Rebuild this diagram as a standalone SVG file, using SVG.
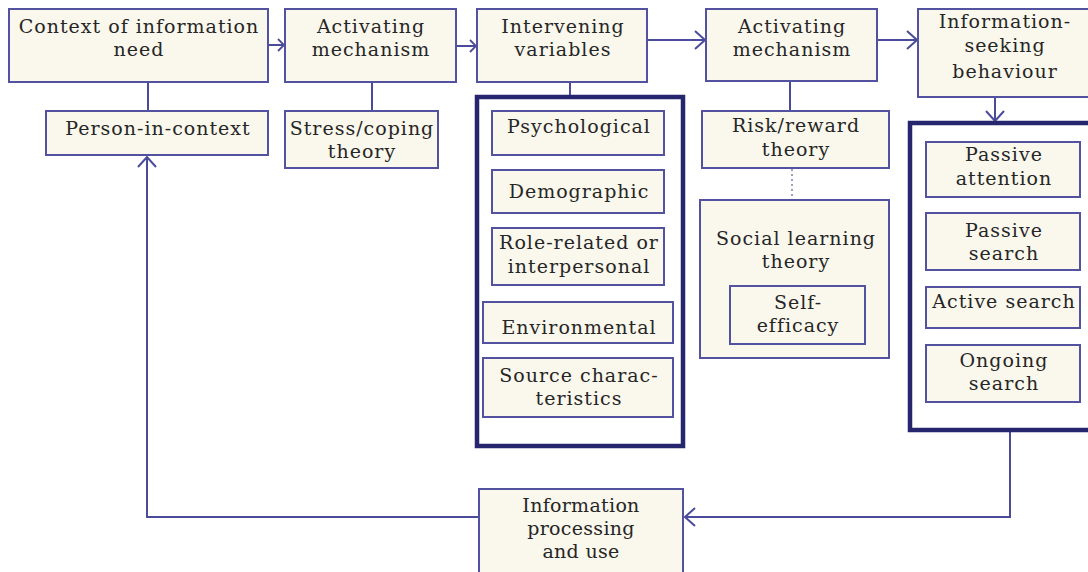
<svg xmlns="http://www.w3.org/2000/svg" width="1088" height="572" viewBox="0 0 1088 572">
<defs>
<style>
.b{fill:#faf7ec;stroke:#5252a0;stroke-width:2}
.k{fill:#ffffff;stroke:#26266e;stroke-width:4.5}
.c{fill:none;stroke:#4b4b9c;stroke-width:2}
.d{fill:none;stroke:#8080a8;stroke-width:1.5;stroke-dasharray:2 3}
text{font-family:"DejaVu Serif","Liberation Serif",serif;font-size:19px;letter-spacing:1px;fill:#262626;text-anchor:middle}
.n{font-size:19px;letter-spacing:0.3px}
</style>
<marker id="ah" viewBox="0 0 12 20" refX="11" refY="10" markerWidth="12" markerHeight="20" markerUnits="userSpaceOnUse" orient="auto">
<path d="M1,1 L11,10 L1,19" fill="none" stroke="#4b4b9c" stroke-width="2"/>
</marker>
<marker id="ahs" viewBox="0 0 8 14" refX="7" refY="7" markerWidth="8" markerHeight="14" markerUnits="userSpaceOnUse" orient="auto">
<path d="M1,1 L7,7 L1,13" fill="none" stroke="#4b4b9c" stroke-width="1.8"/>
</marker>
</defs>
<rect width="1088" height="572" fill="#ffffff"/>

<g id="connectors">
<line class="c" x1="268" y1="45" x2="284" y2="45" marker-end="url(#ahs)"/>
<line class="c" x1="456" y1="46" x2="476" y2="46" marker-end="url(#ahs)"/>
<line class="c" x1="647" y1="40" x2="705" y2="40" marker-end="url(#ah)"/>
<line class="c" x1="877" y1="40" x2="917" y2="40" marker-end="url(#ah)"/>
<line class="c" x1="995" y1="97" x2="995" y2="121" marker-end="url(#ah)"/>
<line class="c" x1="148" y1="82" x2="148" y2="111"/>
<line class="c" x1="372" y1="82" x2="372" y2="111"/>
<line class="c" x1="570" y1="82" x2="570" y2="96"/>
<line class="c" x1="790" y1="81" x2="790" y2="111"/>
<line class="d" x1="792" y1="169" x2="792" y2="199"/>
<polyline class="c" points="1010,432 1010,517 685,517" marker-end="url(#ah)"/>
<polyline class="c" points="479,517 147,517 147,157" marker-end="url(#ah)"/>
</g>

<g id="context-of-information-need">
<rect class="b" x="9" y="9" width="259" height="73"/>
<text x="139" y="33">Context of information</text>
<text x="139" y="56">need</text>
</g>
<g id="activating-mechanism-1">
<rect class="b" x="285" y="9" width="171" height="73"/>
<text x="371" y="33">Activating</text>
<text x="371" y="56">mechanism</text>
</g>
<g id="intervening-variables">
<rect class="b" x="477" y="9" width="170" height="73"/>
<text x="563" y="33">Intervening</text>
<text x="563" y="56">variables</text>
</g>
<g id="activating-mechanism-2">
<rect class="b" x="706" y="9" width="171" height="72"/>
<text x="792" y="33">Activating</text>
<text x="792" y="56">mechanism</text>
</g>
<g id="information-seeking-behaviour">
<rect class="b" x="918" y="9" width="175" height="88"/>
<text x="1005" y="28">Information-</text>
<text x="1005" y="52">seeking</text>
<text x="1005" y="78">behaviour</text>
</g>

<g id="person-in-context">
<rect class="b" x="46" y="111" width="222" height="44"/>
<text x="158" y="135">Person-in-context</text>
</g>
<g id="stress-coping-theory">
<rect class="b" x="285" y="111" width="153" height="57"/>
<text x="362" y="135">Stress/coping</text>
<text x="362" y="158">theory</text>
</g>

<g id="intervening-group">
<rect class="k" x="477" y="97" width="206" height="349"/>
<g id="psychological">
<rect class="b" x="492" y="111" width="172" height="44"/>
<text x="579" y="133">Psychological</text>
</g>
<g id="demographic">
<rect class="b" x="492" y="170" width="172" height="43"/>
<text x="579" y="198">Demographic</text>
</g>
<g id="role-related">
<rect class="b" x="492" y="228" width="172" height="57"/>
<text x="579" y="249">Role-related or</text>
<text x="579" y="273">interpersonal</text>
</g>
<g id="environmental">
<rect class="b" x="483" y="302" width="190" height="41"/>
<text x="579" y="334">Environmental</text>
</g>
<g id="source-characteristics">
<rect class="b" x="483" y="358" width="190" height="59"/>
<text x="579" y="382">Source charac-</text>
<text x="579" y="405">teristics</text>
</g>
</g>

<g id="risk-reward-theory">
<rect class="b" x="702" y="111" width="187" height="57"/>
<text x="796" y="132">Risk/reward</text>
<text x="796" y="156">theory</text>
</g>
<g id="social-learning-theory">
<rect class="b" x="700" y="200" width="189" height="158"/>
<text x="796" y="245">Social learning</text>
<text x="796" y="268">theory</text>
<g id="self-efficacy">
<rect class="b" x="730" y="286" width="135" height="58"/>
<text x="798" y="309">Self-</text>
<text x="798" y="332">efficacy</text>
</g>
</g>

<g id="information-seeking-group">
<rect class="k" x="910" y="123" width="200" height="307"/>
<g id="passive-attention">
<rect class="b" x="926" y="142" width="154" height="55"/>
<text x="1004" y="161">Passive</text>
<text x="1004" y="185">attention</text>
</g>
<g id="passive-search">
<rect class="b" x="926" y="213" width="154" height="57"/>
<text x="1004" y="237">Passive</text>
<text x="1004" y="260">search</text>
</g>
<g id="active-search">
<rect class="b" x="926" y="287" width="154" height="41"/>
<text x="1004" y="308">Active search</text>
</g>
<g id="ongoing-search">
<rect class="b" x="926" y="345" width="154" height="57"/>
<text x="1004" y="367">Ongoing</text>
<text x="1004" y="390">search</text>
</g>
</g>

<g id="information-processing-and-use">
<rect class="b" x="479" y="489" width="204" height="90"/>
<text class="n" x="581" y="512">Information</text>
<text class="n" x="581" y="535">processing</text>
<text class="n" x="581" y="558">and use</text>
</g>
</svg>
